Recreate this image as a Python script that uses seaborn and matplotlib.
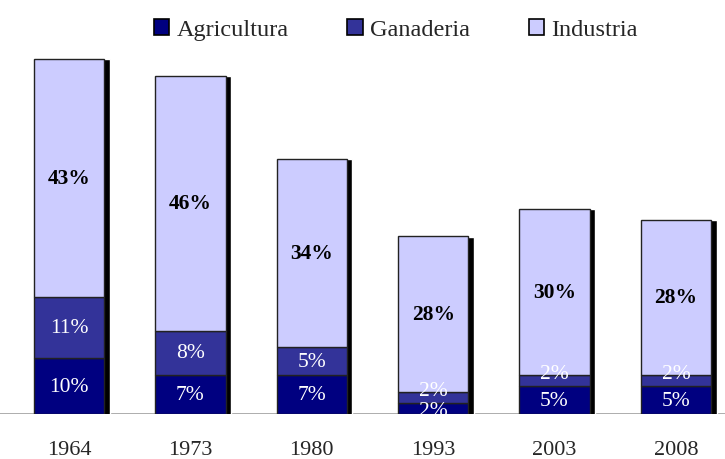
import numpy as np
import pandas as pd
import matplotlib.pyplot as plt
import seaborn as sns

years = ['1964', '1973', '1980', '1993', '2003', '2008']
agricultura = [10, 7, 7, 2, 5, 5]
ganaderia = [11, 8, 5, 2, 2, 2]
industria = [43, 46, 34, 28, 30, 28]

series = ['Agricultura', 'Ganaderia', 'Industria']
colors = ['#000080', '#333399', '#CCCCFF']
label_colors = ['white', 'white', 'black']
label_weights = ['normal', 'normal', 'bold']

df = pd.DataFrame({'year': years, 'Agricultura': agricultura,
                   'Ganaderia': ganaderia, 'Industria': industria})
df['total'] = df[series].sum(axis=1)

sns.set_style('white')
plt.rcParams['font.family'] = ['Liberation Serif', 'DejaVu Serif']

fig = plt.figure(figsize=(7.25, 4.6), dpi=100)
ax = fig.add_axes([0, 0.098, 1, 0.902])

width = 0.58
x = np.arange(len(years))

# shadow behind each bar
ax.bar(x + 0.045, df['total'] + 0.5, bottom=-0.55, width=width,
       color='black', zorder=1)

bottom = np.zeros(len(years))
for s, c, lc, lw in zip(series, colors, label_colors, label_weights):
    vals = df[s].values
    sns.barplot(data=df, x='year', y=s, order=years, color=c, width=width,
                saturation=1, bottom=bottom, edgecolor='#222222',
                linewidth=1.0, ax=ax, zorder=2)
    for xi, v, b in zip(x, vals, bottom):
        yy = b + v / 2
        if v <= 2:  # thin slices: labels pushed apart a little
            yy += 1.3 if s == 'Ganaderia' else -0.4
        ax.text(xi, yy, f'{v}%', ha='center', va='center',
                color=lc, fontsize=15.5, fontweight=lw, zorder=3)
    bottom = bottom + vals

ax.axhline(0, color='#a0a0a0', lw=1.2, zorder=0)
ax.set_xlim(-0.568, 5.404)
ax.set_ylim(0, 74.8)
ax.set_xlabel('')
ax.set_ylabel('')
ax.set_yticks([])
ax.set_xticks(x)
ax.set_xticklabels(years, fontsize=16)
ax.tick_params(axis='x', length=0, pad=19)
sns.despine(ax=ax, left=True, bottom=True)

handles = [plt.Rectangle((0, 0), 1, 1, facecolor=c, edgecolor='black', lw=1.2)
           for c in colors]
fig.legend(handles, series, loc='upper center',
           bbox_to_anchor=(0.546, 1.005), ncol=3, frameon=False,
           fontsize=17.5, handlelength=0.65, handleheight=0.65,
           handletextpad=0.3, columnspacing=2.4)

fig.savefig('out.png', dpi=100)
